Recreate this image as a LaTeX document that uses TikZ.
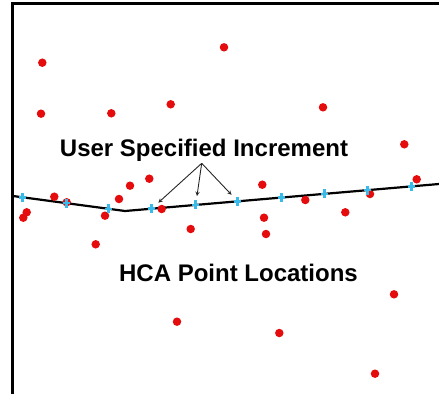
\documentclass[tikz,border=0pt]{standalone}
\usepackage{fontspec}
\setmainfont{Liberation Sans}
\usetikzlibrary{arrows,positioning}
\definecolor{hcared}{RGB}{228,12,12}
\definecolor{tickblue}{RGB}{58,186,232}

\begin{document}
\begin{tikzpicture}[x=1pt, y=-1pt, line width=0.5pt,
	hca/.style={circle, fill=hcared, inner sep=0pt, minimum size=8.5pt},
	tick/.style={tickblue, line width=2.5pt},
	label text/.style={font=\fontsize{24}{28}\selectfont\bfseries, inner sep=0pt, anchor=base},
	pointer/.style={->, >=stealth, black!85, line width=0.9pt, shorten >=9pt}]

	\useasboundingbox (0,0) rectangle (439,394);
	% frame, left and top only
	\draw[line width=3pt] (12.5,394) -- (12.5,3.5) -- (439,3.5);

	% alignment
	\coordinate (start) at (13,196);
	\coordinate (bend) at (125,211);
	\coordinate (end) at (439,184);
	\draw[line width=2.2pt] (start) -- (bend) -- (end);

	% HCA points
	\foreach \x/\y [count=\i] in {42.3/62.7, 224/47.3, 41/113.7, 111.3/113.3, 170.7/104.3,
		323/107.3, 404.3/144.3, 416.7/179.3, 149.3/178.7, 130/185.7, 119/199,
		54.3/196.7, 66.7/202.3, 26.7/212.3, 23.3/217.7, 105/215.7, 161.7/209,
		262.3/184.7, 305.3/200, 370/194, 345.3/212.3, 264/217.7, 266/234,
		190.7/229, 95.7/244.3, 394/294.3, 177/321.7, 279.3/333, 375/373.7}
		\node[hca] (p\i) at (\x,\y) {};

	% increments along the alignment
	\foreach \x/\y [count=\i] in {22.7/197.3, 66.7/203.2, 108.3/208.8, 151.7/208.7,
		195.7/204.9, 237.7/201.3, 281.7/197.5, 324.3/193.9, 367.7/190.2, 411.7/186.4}
	{
		\coordinate (t\i) at (\x,\y);
		\draw[tick] (t\i) ++(0,-4.5) -- ++(0,9) (t\i) ++(-3.5,0) -- ++(7,0);
	}

	\node[label text] (incr) at (204,156.7) {User Specified Increment};
	\node[label text] (locs) at (238.5,281.5) {HCA Point Locations};

	\coordinate (split) at (201.7,163.3);
	\foreach \k in {4,5,6}
		\draw[pointer] (split) -- (t\k);
\end{tikzpicture}
\end{document}
